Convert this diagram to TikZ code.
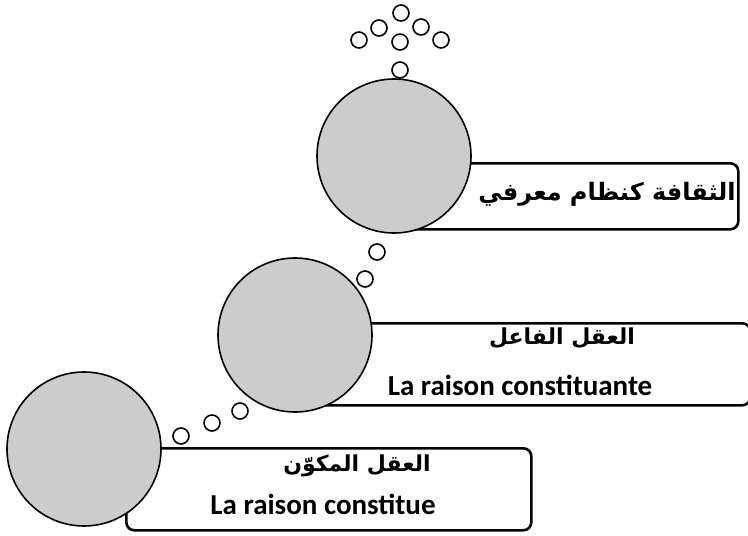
\documentclass[tikz,border=0pt]{standalone}
\usepackage{fontspec}
\setmainfont{Carlito}
\newfontfamily\arabicfont[Script=Arabic]{DejaVu Sans}
\TeXXeTstate=1
\usetikzlibrary{positioning}

\begin{document}
\begin{tikzpicture}[x=1pt,y=-1pt, big/.style={draw,circle,line width=1.6pt,
		fill=gray!40,minimum size=154pt,inner sep=0pt},
	bub/.style={draw,circle,line width=1.6pt,fill=white,minimum size=16pt,inner sep=0pt},
	lab/.style={draw,line width=2.6pt,rounded corners=8pt,fill=white,anchor=north west,inner sep=0pt},
	ar/.style={font=\arabicfont\bfseries\fontsize{22}{26}\selectfont},
	fr/.style={font=\bfseries\fontsize{29}{32}\selectfont}]
	\useasboundingbox (0,0) rectangle (748,536);
	\node[lab,minimum width=342pt,minimum height=66pt] (box1) at (395,162) {};
	\node[lab,minimum width=454pt,minimum height=82pt] (box2) at (295,322) {};
	\node[lab,minimum width=405pt,minimum height=82pt] (box3) at (125,447) {};
	\node[big] (c1) at (394,156) {};
	\node[big] (c2) at (295,335) {};
	\node[big] (c3) at (84,449) {};
	\foreach \x/\y [count=\i] in {401/13,379/28,421/27,359/40,400/42,441/40,400/70,
		377/252,365/279,240/411,212/423,181/436}
		\node[bub] (b\i) at (\x,\y) {};
	\node[ar,font=\arabicfont\bfseries\fontsize{24}{28}\selectfont] (t1) at (607,194) {\beginR الثقافة كنظام معرفي\endR};
	\node[ar] (t2) at (562,338) {\beginR العقل الفاعل\endR};
	\node[fr] (t2f) at (520,385) {La raison constituante};
	\node[ar] (t3) at (357,466) {\beginR العقل المكوّن\endR};
	\node[fr] (t3f) at (323,504) {La raison constitue};
\end{tikzpicture}
\end{document}
